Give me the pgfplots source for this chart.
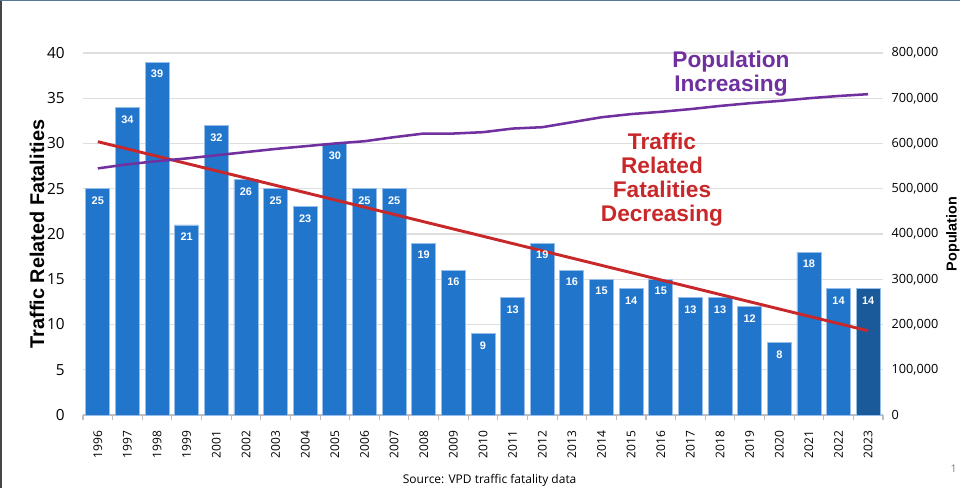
\documentclass[border=0pt]{standalone}
\usepackage{pgfplots}
\pgfplotsset{compat=1.18}
\usepackage{fontspec}
\setmainfont{Open Sans}
\newfontfamily\lsans{Liberation Sans}
\definecolor{barblue}{RGB}{33,118,204}
\definecolor{bardark}{RGB}{26,90,154}
\definecolor{baredge}{RGB}{150,190,232}
\definecolor{trendred}{RGB}{200,40,42}
\definecolor{poppurple}{RGB}{112,48,160}
\definecolor{gridgray}{RGB}{222,222,222}
\definecolor{axisgray}{RGB}{190,190,190}
\definecolor{framegray}{RGB}{70,70,70}
\definecolor{frameblue}{RGB}{90,120,150}
\begin{document}
\begin{tikzpicture}
\useasboundingbox (-62.25pt,-54.75pt) rectangle (657.75pt,311.25pt);
% slide frame
\fill[framegray] (-62.25pt,-54.75pt) rectangle (-60.5pt,311.25pt);
\fill[frameblue] (-62.25pt,310.25pt) rectangle (657.75pt,311.25pt);
\begin{axis}[
  at={(0,0)}, anchor=south west,
  scale only axis, width=600pt, height=271.5pt,
  xmin=-0.5, xmax=26.5, ymin=0, ymax=40,
  axis y line*=left, axis x line*=bottom,
  y axis line style={draw=none},
  x axis line style={axisgray, line width=0.8pt},
  xtick={0,...,26},
  xticklabels={1996,1997,1998,1999,2001,2002,2003,2004,2005,2006,2007,2008,2009,2010,2011,2012,2013,2014,2015,2016,2017,2018,2019,2020,2021,2022,2023},
  major x tick style={draw=none},
  minor xtick={-0.5,0.5,...,26.5},
  minor x tick style={axisgray, line width=0.8pt},
  minor tick length=4pt,
  tick align=outside,
  xticklabel style={rotate=90, anchor=east, font=\fontsize{9}{9}\selectfont, yshift=0pt, xshift=-4pt},
  ytick={0,5,...,40},
  major y tick style={draw=none},
  yticklabel style={font=\fontsize{11.5}{11.5}\selectfont, xshift=-6pt},
  /pgf/number format/assume math mode=true,
  ymajorgrids, grid style={gridgray, line width=0.8pt},
  ylabel={\lsans\bfseries Traffic Related Fatalities},
  ylabel style={font=\fontsize{14.9}{14.9}\selectfont, at={(axis description cs:-0.0575,0.5)}, anchor=center},
  ybar, bar width=0.81,
  nodes near coords,
  every node near coord/.append style={font=\lsans\bfseries\fontsize{8.2}{8.2}\selectfont, text=white, anchor=center, yshift=-9pt},
  clip=false,
]
\addplot[fill=barblue, draw=baredge, line width=0.6pt, bar shift=0pt] coordinates {
(0,25)(1,34)(2,39)(3,21)(4,32)(5,26)(6,25)(7,23)(8,30)(9,25)(10,25)(11,19)(12,16)(13,9)(14,13)(15,19)(16,16)(17,15)(18,14)(19,15)(20,13)(21,13)(22,12)(23,8)(24,18)(25,14)};
\addplot[fill=bardark, draw=baredge, line width=0.6pt, bar shift=0pt] coordinates {(26,14)};
\addplot[sharp plot, no marks, trendred, line width=2.2pt, nodes near coords={}] coordinates {(0,30.2)(26,9.3)};
\end{axis}
\begin{axis}[
  at={(0,0)}, anchor=south west,
  scale only axis, width=600pt, height=271.5pt,
  xmin=-0.5, xmax=26.5, ymin=0, ymax=800000,
  axis y line*=right, axis x line=none,
  y axis line style={draw=none},
  major y tick style={draw=none},
  ytick={0,100000,...,800000},
  scaled y ticks=false,
  yticklabel style={font=\fontsize{9.5}{9.5}\selectfont, xshift=3pt, /pgf/number format/.cd, fixed, 1000 sep={,}},
  /pgf/number format/assume math mode=true,
  ylabel={\lsans\bfseries Population},
  ylabel style={font=\fontsize{10.8}{10.8}\selectfont, at={(axis description cs:1.0875,0.5)}, anchor=center, rotate=0},
  clip=false,
]
\addplot[poppurple, line width=1.9pt, no marks] coordinates {
(0,545000)(1,554000)(2,561000)(3,567000)(4,574000)(5,581000)(6,588000)(7,594000)(8,600000)(9,605000)(10,614000)(11,622000)(12,622000)(13,625000)(14,633000)(15,636000)(16,647000)(17,658000)(18,665000)(19,670000)(20,676000)(21,683000)(22,689000)(23,694000)(24,700000)(25,705000)(26,709000)};
\end{axis}
\node[poppurple, align=center, font=\lsans\bfseries\fontsize{17}{18}\selectfont] at (486pt,255.75pt) {Population\\Increasing};
\node[trendred, align=center, font=\lsans\bfseries\fontsize{17}{18}\selectfont] at (434.25pt,176.6pt) {Traffic\\Related\\Fatalities\\Decreasing};
\node[font=\fontsize{9}{9}\selectfont] at (305pt,-49pt) {Source: VPD traffic fatality data};
\node[font=\fontsize{8}{8}\selectfont, text=gray] at (653pt,-40pt) {1};
\end{tikzpicture}
\end{document}
